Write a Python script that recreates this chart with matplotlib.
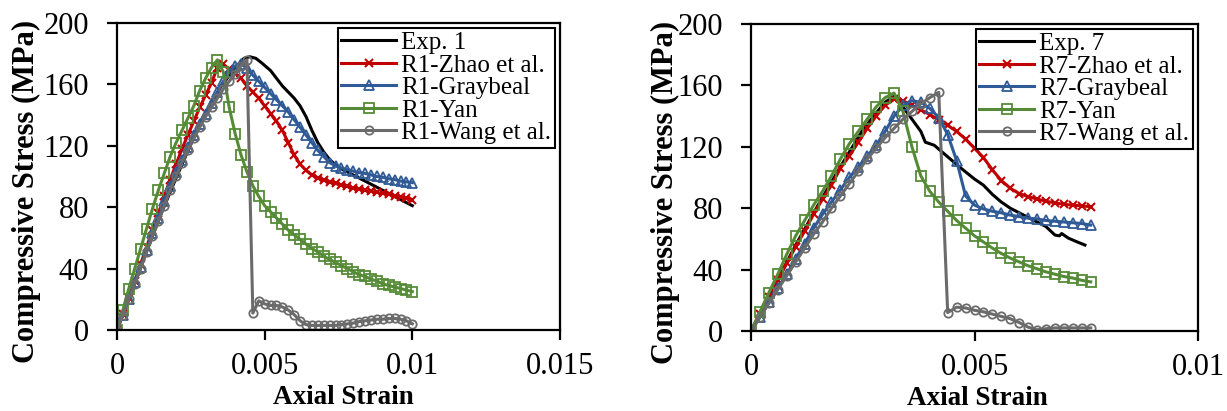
import matplotlib
matplotlib.use("Agg")
import matplotlib.pyplot as plt
import numpy as np

plt.rcParams['font.family'] = ['Liberation Serif', 'DejaVu Serif']

# ---------------- data ----------------
# strain grid for model curves (x 1e-4)
GRID_L = [0, 2, 4, 6, 8, 10, 12, 14, 16, 18, 20, 22, 24, 26, 28, 30, 32, 34, 36, 38,
          40, 42, 44, 46, 48, 50, 52, 54, 56, 58, 60, 62, 64, 66, 68, 70, 72, 74, 76, 78,
          80, 82, 84, 86, 88, 90, 92, 94, 96, 98, 100]
GRID_R = [0, 2, 4, 6, 8, 10, 12, 14, 16, 18, 20, 22, 24, 26, 28, 30, 32, 34, 36, 38,
          40, 42, 44, 46, 48, 50, 52, 54, 56, 58, 60, 62, 64, 66, 68, 70, 72, 74, 76]

# Left panel (specimen 1)
exp1_strain = [0, 0.0005, 0.001, 0.0015, 0.002, 0.0025, 0.003, 0.0035, 0.004, 0.0043,
               0.0045, 0.0047, 0.0049, 0.0052, 0.0054, 0.0056, 0.0058, 0.006, 0.0062, 0.0064,
               0.0066, 0.0068, 0.007, 0.0072, 0.0075, 0.0078, 0.0082, 0.0086, 0.009, 0.0095, 0.01]
exp1_stress = [0, 25, 51, 76, 99, 121, 141, 158, 171, 177,
               178, 177, 174, 169, 164, 159, 155, 151, 146, 139,
               130, 122, 116, 111, 106, 103, 99, 95, 91, 86, 81]
r1_zhao = [0, 10.5, 21, 32, 43, 54, 65, 76, 87, 98,
           108, 118, 127, 136, 145, 153, 161, 171, 173, 170,
           167, 164, 159, 155, 151, 146, 141, 136, 130, 122,
           114, 108, 104, 101, 99, 97.5, 96.5, 95.5, 94.5, 93.5,
           92.5, 91.8, 91, 90.3, 89.6, 89, 88.3, 87.6, 86.8, 86, 85]
r1_graybeal = [0, 10, 20.5, 31, 41, 52, 63, 73, 84, 94,
               103, 111, 119, 127, 134, 141, 148, 155, 162, 168,
               172, 173, 171, 166, 162, 158, 154, 150, 146, 142,
               137, 132, 127, 122, 117, 113, 109, 107, 105.5, 104.5,
               103.5, 102.5, 102, 101, 100, 99.5, 98.5, 98, 97, 96.5, 96]
r1_yan = [0, 13, 27, 40, 53, 66, 79, 91, 102, 113,
          122, 130, 138, 146, 156, 164, 171, 176, 168, 145,
          128, 114, 103, 94, 87, 81, 77, 73, 69, 65,
          62, 59, 56, 53, 51, 48, 46, 44, 42, 40,
          38, 36, 35, 33, 32, 30, 29, 28, 27, 26, 25]
r1_wang = [0, 10, 20, 30, 40, 51, 61, 71, 81, 91,
           100, 109, 117, 125, 132, 139, 145, 151, 157, 162,
           167, 172, 176, 11, 19, 17, 16, 16, 15, 13,
           10, 6, 3.5, 3, 3, 3, 3, 3, 3.5, 4,
           4.5, 5.5, 6, 6.5, 7, 7, 7.5, 7.5, 7, 6, 4]

# Right panel (specimen 7)
exp7_strain = [0, 0.0005, 0.001, 0.0015, 0.002, 0.0025, 0.0028, 0.003, 0.0032, 0.0033,
               0.0034, 0.0035, 0.0036, 0.0037, 0.0038, 0.0039, 0.0041, 0.0043, 0.0045, 0.0047,
               0.005, 0.0052, 0.0054, 0.0056, 0.0058, 0.006, 0.0062, 0.0064, 0.0066, 0.0068,
               0.0069, 0.00695, 0.0071, 0.0073, 0.00747]
exp7_stress = [0, 28, 56, 82, 107, 131, 142, 149, 153, 151,
               146, 142, 138, 134, 130, 123, 121, 116, 111, 106,
               99, 95, 89, 84, 80, 77, 74, 71, 68, 62.5,
               62, 63.5, 60.5, 58, 56]
r7_zhao = [0, 11, 22, 33, 44, 55, 65, 76, 86, 95,
           106, 114, 123, 132, 140, 147, 151, 150, 147, 144,
           141, 137.5, 134, 130, 125, 119, 113, 105, 98, 93,
           89.5, 87.5, 86, 84.5, 83.5, 82.5, 82, 81.5, 81]
r7_graybeal = [0, 9, 19, 28, 37, 47, 57, 67, 76, 84,
               92, 100, 107, 114, 121, 130, 140, 147, 150, 149,
               145, 139, 128, 111, 88, 82, 79.5, 78, 77, 75.5,
               74.5, 73.5, 73, 72, 71.5, 71, 70.5, 70, 69]
r7_yan = [0, 12.5, 25, 37, 50, 62, 72, 82, 91, 101,
          112, 122, 130, 138, 146, 152, 155, 143, 120, 101,
          91, 84, 78, 72, 67, 62, 58, 54, 50.5, 47.5,
          45, 42.5, 40.5, 38.5, 37, 35.5, 34.5, 33, 32]
r7_wang = [0, 9, 18, 27, 36, 45, 54, 63, 71, 80,
           88, 96, 104, 112, 119, 126, 132, 138, 143, 148,
           152, 155.5, 12, 15.5, 15, 13.5, 12.5, 11, 9.5, 8,
           5.5, 2.5, 0.8, 1.5, 2, 2, 2, 2, 2]

labels_L = ['Exp. 1', 'R1-Zhao et al.', 'R1-Graybeal', 'R1-Yan', 'R1-Wang et al.']
labels_R = ['Exp. 7', 'R7-Zhao et al.', 'R7-Graybeal', 'R7-Yan', 'R7-Wang et al.']

xticks_L = [0, 0.005, 0.01, 0.015]
xticklabels_L = ['0', '0.005', '0.01', '0.015']
xticks_R = [0, 0.005, 0.01]
xticklabels_R = ['0', '0.005', '0.01']
yticks = [0, 40, 80, 120, 160, 200]
yticklabels = ['0', '40', '80', '120', '160', '200']

# ---------------- styles ----------------
C_RED = '#C00000'
C_BLUE = '#2F5A96'
C_GREEN = '#558B36'
C_GRAY = '#6B6B6B'
LW = 2.2
styles = [
    dict(color='black', lw=LW),
    dict(color=C_RED, lw=LW, marker='x', ms=6, mew=1.5),
    dict(color=C_BLUE, lw=LW, marker='^', ms=6.5, mew=1.3, mfc='none'),
    dict(color=C_GREEN, lw=LW, marker='s', ms=6.5, mew=1.3, mfc='none'),
    dict(color=C_GRAY, lw=LW, marker='o', ms=6, mew=1.3, mfc='none'),
]

fig = plt.figure(figsize=(12.27, 4.11), dpi=100)
ax1 = fig.add_axes([117 / 1227, 81 / 411, 443 / 1227, 307 / 411])
ax2 = fig.add_axes([751 / 1227, 80 / 411, 447 / 1227, 307 / 411])


def draw(ax, exp_x, exp_y, grid, models, labels, xticks, xticklabels, xmax, ylab_x, xlab_x):
    gx = np.array(grid) * 1e-4
    handles = []
    h, = ax.plot(exp_x, exp_y, label=labels[0], **styles[0])
    handles.append(h)
    for i, m in enumerate(models):
        h, = ax.plot(gx, m, label=labels[i + 1], **styles[i + 1])
        handles.append(h)
    ax.set_xlim(0, xmax)
    ax.set_ylim(0, 200)
    ax.set_xticks(xticks)
    ax.set_xticklabels(xticklabels)
    ax.set_yticks(yticks)
    ax.set_yticklabels(yticklabels)
    for s in ax.spines.values():
        s.set_linewidth(1.6)
    ax.tick_params(axis='both', direction='out', length=7, width=1.6, labelsize=22)
    ax.tick_params(axis='y', pad=13)
    ax.tick_params(axis='x', pad=9)
    ax.set_ylabel('Compressive Stress (MPa)', fontsize=22, fontweight='bold')
    ax.set_xlabel('Axial Strain', fontsize=19.5, fontweight='bold')
    ax.yaxis.set_label_coords(ylab_x, 0.45)
    ax.xaxis.set_label_coords(xlab_x, -0.178)
    leg = ax.legend(handles=handles, loc='upper right', fontsize=18, frameon=True,
                    fancybox=False, edgecolor='black', framealpha=1,
                    borderpad=0.15, labelspacing=0.0, handlelength=2.2,
                    handletextpad=0.2, borderaxespad=0.2)
    leg.get_frame().set_linewidth(1.5)


draw(ax1, exp1_strain, exp1_stress, GRID_L, [r1_zhao, r1_graybeal, r1_yan, r1_wang],
     labels_L, xticks_L, xticklabels_L, 0.015, -0.172, 0.51)
draw(ax2, exp7_strain, exp7_stress, GRID_R, [r7_zhao, r7_graybeal, r7_yan, r7_wang],
     labels_R, xticks_R, xticklabels_R, 0.01, -0.158, 0.506)

fig.savefig('out.png', dpi=100)
